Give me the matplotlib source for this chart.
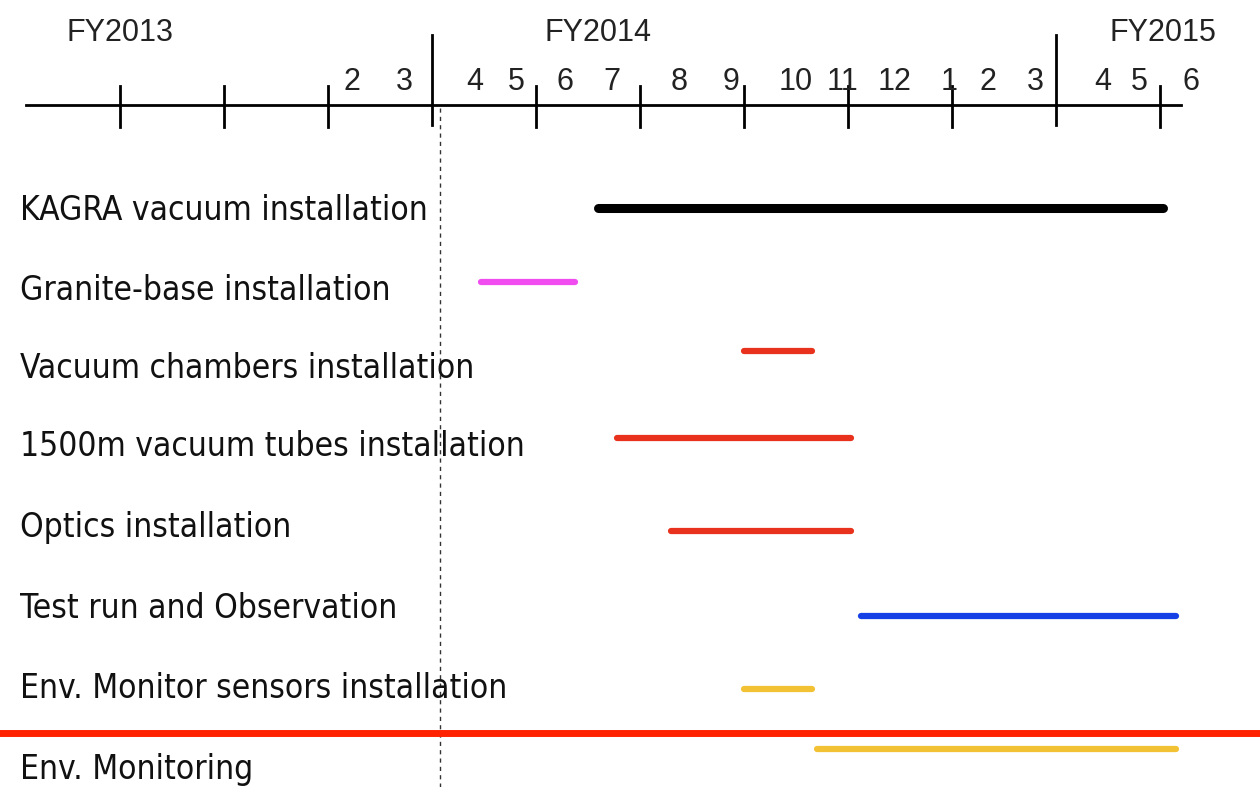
import matplotlib
matplotlib.use("Agg")
import matplotlib.pyplot as plt

# months counted from April 2014 (start of FY2014)
tasks = ["KAGRA vacuum installation", "Granite-base installation",
         "Vacuum chambers installation", "1500m vacuum tubes installation",
         "Optics installation", "Test run and Observation",
         "Env. Monitor sensors installation", "Env. Monitoring"]
starts = [3.2, 0.95, 6.0, 3.55, 4.6, 8.25, 6.0, 7.4]
ends = [14.05, 2.75, 7.3, 8.05, 8.05, 14.3, 7.3, 14.3]
colors = ["black", "#f04cf0", "#e8321e", "#e8321e", "#e8321e",
          "#1440e6", "#f2c234", "#f2c234"]

month_labels = ["2", "3", "4", "5", "6", "7", "8", "9", "10", "11", "12",
                "1", "2", "3", "4", "5", "6"]
month_pos = [-1.54, -0.54, 0.83, 1.63, 2.56, 3.46, 4.75, 5.75, 7.0, 7.9,
             8.9, 9.95, 10.7, 11.6, 12.9, 13.6, 14.6]
fy_labels = ["FY2013", "FY2014", "FY2015"]
fy_pos = [-6.0, 3.2, 14.05]
ticks = [-6, -4, -2, 0, 2, 4, 6, 8, 10, 12, 14]

label_y = [210, 290, 368, 447, 528, 608, 688, 769]
bar_y = [208, 282, 351, 438, 531, 616, 689, 749]
bar_lw = [6.5, 4.5, 4.5, 4.5, 4.5, 4.5, 4.5, 4.5]

fig = plt.figure(figsize=(12.6, 7.87), dpi=100)
ax = fig.add_axes([0, 0, 1, 1])
ax.set_xlim(-432 / 52, (1260 - 432) / 52)
ax.set_ylim(787, 0)
ax.axis("off")

# time axis
ax.plot([-7.8, 14.4], [105, 105], color="black", lw=2)
for t in ticks:
    if t in (0, 12):
        ax.plot([t, t], [35, 125], color="black", lw=2)
    else:
        ax.plot([t, t], [86, 127], color="black", lw=2)
for lab, p in zip(month_labels, month_pos):
    ax.text(p, 82, lab, ha="center", va="center", fontsize=22,
            family="Liberation Sans", color="#222222")
for lab, p in zip(fy_labels, fy_pos):
    ax.text(p, 33, lab, ha="center", va="center", fontsize=22,
            family="Liberation Sans", color="#222222")

# current date marker
ax.plot([0.15, 0.15], [108, 787], color="#333333", lw=1, ls=(0, (3, 3)))

for i, task in enumerate(tasks):
    ax.text(-7.93, label_y[i], task, ha="left", va="center", fontsize=24,
            family="DejaVu Sans", fontstretch="condensed", color="#111111")
    ax.plot([starts[i], ends[i]], [bar_y[i], bar_y[i]], color=colors[i],
            lw=bar_lw[i], solid_capstyle="round")

ax.plot([-9, 17], [733, 733], color="#ff2200", lw=5)

fig.savefig("out.png", dpi=100)
